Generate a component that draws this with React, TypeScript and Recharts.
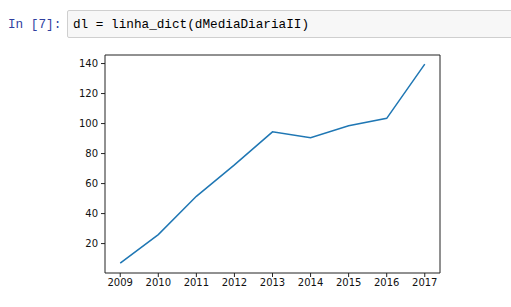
import React from 'react'
import { LineChart, Line, XAxis, YAxis, ReferenceLine } from 'recharts'

const years = [2009, 2010, 2011, 2012, 2013, 2014, 2015, 2016, 2017]
const media = [7, 26, 51.5, 72.5, 94.5, 90.5, 98.5, 103.5, 139.6]
const yTicks = [20, 40, 60, 80, 100, 120, 140]

const data = years.map((y, i) => ({ year: y, value: media[i] }))

const xDomain = [2008.6, 2017.4]
const yDomain = [0.4, 145.7]

const tickStyle = { fontFamily: 'DejaVu Sans', fontSize: 10, fill: '#111' }

const App: React.FC = () => {
  return (
    <div style={{ position: 'absolute', left: 0, top: 0, width: 511, height: 307, background: '#fff', overflow: 'hidden' }}>
      <div
        style={{
          position: 'absolute', left: 8, top: 17, fontFamily: 'Liberation Mono', fontSize: 12.7,
          lineHeight: '15px', color: '#303F9F', whiteSpace: 'pre',
        }}
      >
        In [7]:
      </div>
      <div
        style={{
          position: 'absolute', left: 67, top: 10, width: 460, height: 28, background: '#f7f7f7',
          border: '1px solid #cfcfcf', borderRadius: 2, boxSizing: 'border-box',
        }}
      />
      <div
        style={{
          position: 'absolute', left: 73, top: 17, fontFamily: 'Liberation Mono', fontSize: 12.7,
          lineHeight: '15px', color: '#000', whiteSpace: 'pre',
        }}
      >
        dl = linha_dict(dMediaDiariaII)
      </div>
      <div style={{ position: 'absolute', left: 0, top: 0 }}>
        <LineChart width={511} height={307} data={data} margin={{ top: 55, right: 71, bottom: 0, left: 0 }}>
          <XAxis
            dataKey="year"
            type="number"
            domain={xDomain}
            ticks={years}
            allowDataOverflow
            height={34}
            tickSize={4}
            tickMargin={2}
            tick={tickStyle}
            stroke="#222"
            tickLine={{ stroke: '#222' }}
            axisLine={{ stroke: '#222' }}
          />
          <YAxis
            type="number"
            domain={yDomain}
            ticks={yTicks}
            allowDataOverflow
            width={105}
            tickSize={4}
            tickMargin={3}
            tick={tickStyle}
            tickLine={{ stroke: '#222' }}
            axisLine={{ stroke: '#222' }}
          />
          <ReferenceLine y={yDomain[1]} stroke="#222" />
          <ReferenceLine x={xDomain[1]} stroke="#222" />
          <Line
            dataKey="value"
            stroke="#1f77b4"
            strokeWidth={1.5}
            dot={false}
            isAnimationActive={false}
          />
        </LineChart>
      </div>
    </div>
  )
}

export default App
